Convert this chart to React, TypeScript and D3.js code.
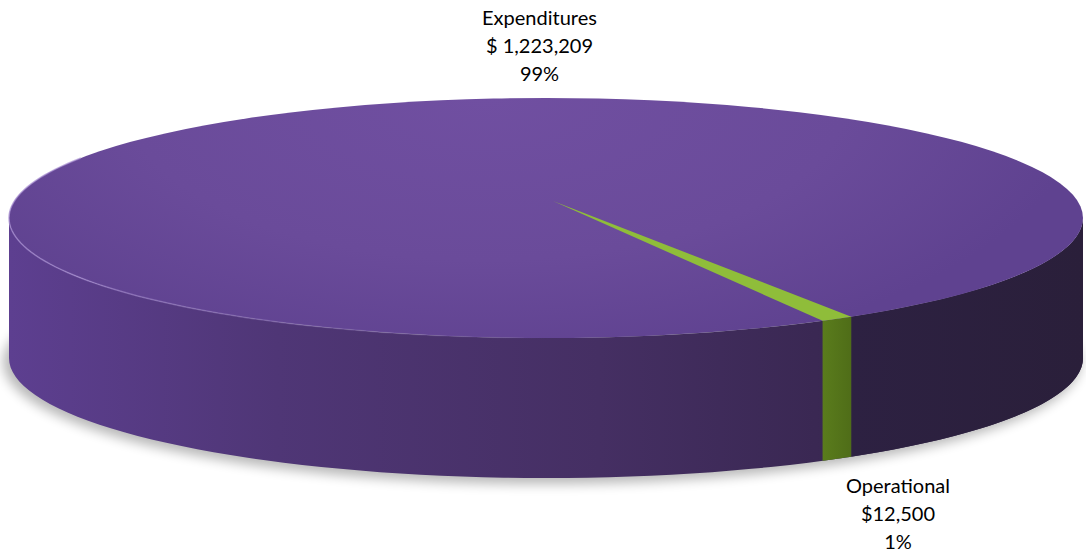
import React from "react";
import * as d3 from "d3";

const categories = ["Expenditures", "Operational"];
const values = [1223209, 12500];
const amountLabels = ["$ 1,223,209", "$12,500"];
const percentLabels = ["99%", "1%"];

const W = 1086;
const H = 558;
const cx = 546;
const cy = 218;
const rx = 537;
const ry = 120;
const depth = 140;
const apex = { x: cx + 7, y: cy - 17 };
const deg = Math.PI / 180;

function pt(a: number, dy = 0): [number, number] {
  return [cx + rx * Math.sin(a), cy - ry * Math.cos(a) + dy];
}
function arcPts(a0: number, a1: number, dy = 0, n = 80): [number, number][] {
  return d3.range(n + 1).map((i) => pt(a0 + ((a1 - a0) * i) / n, dy));
}
const line = d3.line<[number, number]>();

export default function App() {
  const pie = d3
    .pie<number>()
    .sort(null)
    .startAngle(149 * deg)
    .endAngle(149 * deg + 2 * Math.PI);
  const arcs = pie(values);
  const op = arcs[1];
  const a0 = op.startAngle - 2 * Math.PI;
  const a1 = op.endAngle - 2 * Math.PI;

  const sidePath =
    line([...arcPts(90 * deg, 270 * deg), ...arcPts(270 * deg, 90 * deg, depth)])! + "Z";
  const greenSide = line([...arcPts(a0, a1, 0, 10), ...arcPts(a1, a0, depth, 10)])! + "Z";
  const greenRightSide = line([...arcPts(a0, 90 * deg, 0, 40), ...arcPts(90 * deg, a0, depth, 40)])! + "Z";
  const greenTop = line([[apex.x, apex.y], ...arcPts(a0, a1, 0, 10)])! + "Z";
  const rimPath = line(arcPts(180 * deg, 300 * deg))!;

  return (
    <svg width={W} height={H} style={{ display: "block", position: "absolute", left: 0, top: 0 }}>
      <defs>
        <linearGradient id="side" gradientUnits="userSpaceOnUse" x1={cx - rx} x2={cx + rx} y1={0} y2={0}>
          <stop offset="0" stopColor="#5d3f90" />
          <stop offset="0.25" stopColor="#4f3676" />
          <stop offset="0.55" stopColor="#452f63" />
          <stop offset="0.75" stopColor="#3a2853" />
          <stop offset="1" stopColor="#2f2244" />
        </linearGradient>
        <linearGradient id="sideR" gradientUnits="userSpaceOnUse" x1={850} x2={1083} y1={0} y2={0}>
          <stop offset="0" stopColor="#2d2142" />
          <stop offset="1" stopColor="#2a1f3a" />
        </linearGradient>
        <linearGradient id="gside" x1="0" x2="1" y1="0" y2="0">
          <stop offset="0" stopColor="#5a7c1c" />
          <stop offset="1" stopColor="#4f6d18" />
        </linearGradient>
        <radialGradient id="top" gradientUnits="userSpaceOnUse" cx={cx - 60} cy={cy - 120} r={600} gradientTransform={`translate(0 ${cy - 120}) scale(1 0.45) translate(0 ${-(cy - 120)})`}>
          <stop offset="0" stopColor="#704fa1" />
          <stop offset="0.6" stopColor="#6a4b9a" />
          <stop offset="1" stopColor="#5f4290" />
        </radialGradient>
        <linearGradient id="rim" gradientUnits="userSpaceOnUse" x1={cx - rx} x2={cx} y1={0} y2={0}>
          <stop offset="0" stopColor="#a58bd0" stopOpacity="0.7" />
          <stop offset="1" stopColor="#a58bd0" stopOpacity="0" />
        </linearGradient>
        <filter id="blur" x="-10%" y="-30%" width="120%" height="160%">
          <feGaussianBlur stdDeviation="6" />
        </filter>
      </defs>

      {/* shadow */}
      <ellipse cx={cx - 4} cy={cy + depth + 4} rx={rx + 2} ry={ry + 2} fill="#000" opacity={0.28} filter="url(#blur)" />

      {/* side */}
      <path d={sidePath} fill="url(#side)" />
      <path d={greenRightSide} fill="url(#sideR)" />
      <path d={greenSide} fill="url(#gside)" />

      {/* top */}
      <ellipse cx={cx} cy={cy} rx={rx} ry={ry} fill="url(#top)" />
      <path d={rimPath} fill="none" stroke="url(#rim)" strokeWidth={1.5} />
      <path d={greenTop} fill="#8fbd3a" />

      {/* labels */}
      <g fontFamily="Lato, sans-serif" fontSize={20} fill="#000" textAnchor="middle">
        <text x={539.5} y={25}>{categories[0]}</text>
        <text x={539.5} y={53}>{amountLabels[0]}</text>
        <text x={539.5} y={81}>{percentLabels[0]}</text>
        <text x={898} y={493}>{categories[1]}</text>
        <text x={898} y={521}>{amountLabels[1]}</text>
        <text x={898} y={549}>{percentLabels[1]}</text>
      </g>
    </svg>
  );
}
